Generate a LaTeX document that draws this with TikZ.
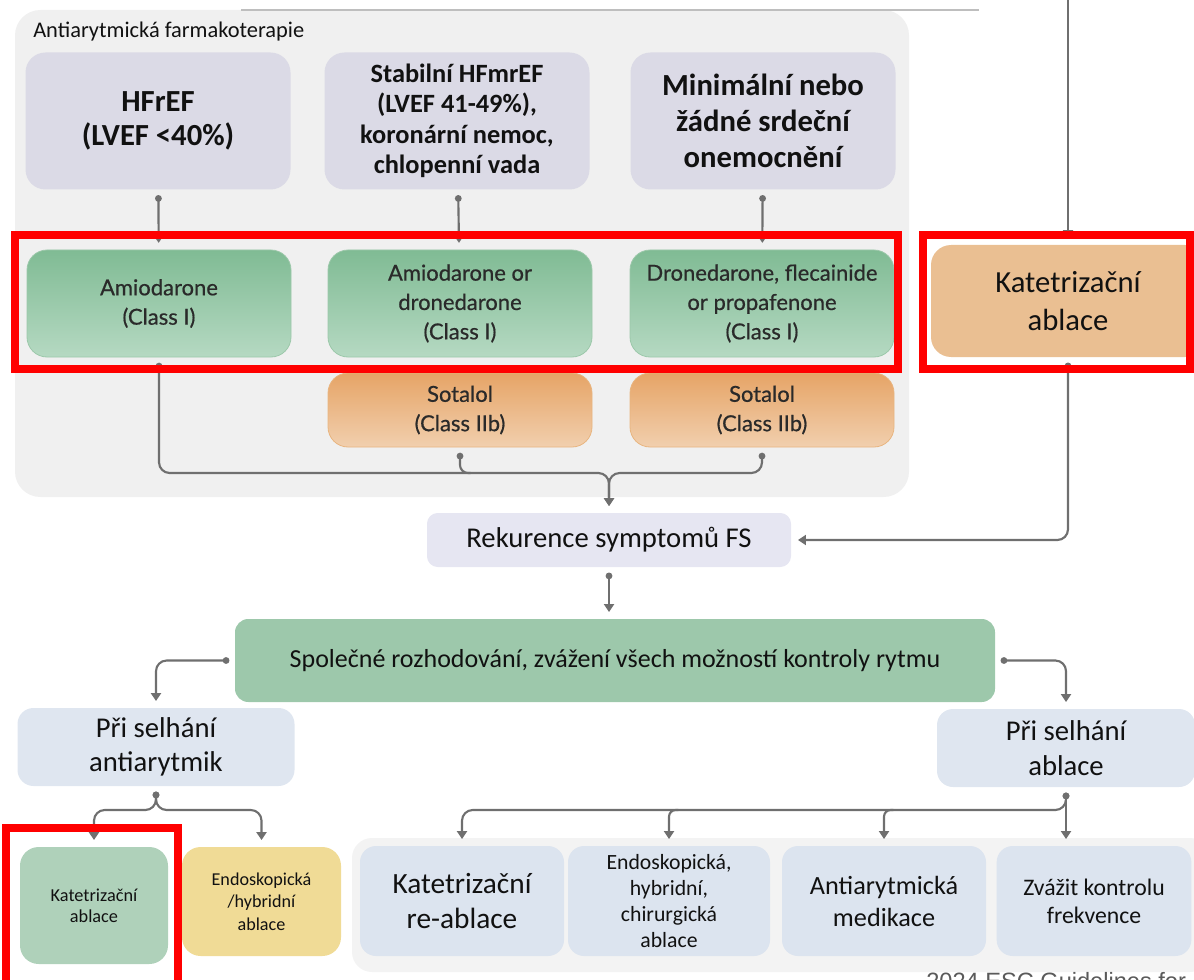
\documentclass[tikz,border=0pt]{standalone}
\usepackage{fontspec}
\setmainfont{Carlito}
\newfontface\drugfont[FakeBold=0.6]{Lato}
\newfontfamily\notefont{Liberation Sans}
\usetikzlibrary{arrows.meta,positioning}
\definecolor{INK}{HTML}{111111}
\definecolor{DRUGINK}{HTML}{2A2A2A}
\definecolor{PANEL}{HTML}{F0F0F0}
\definecolor{COND}{HTML}{DBDAE6}
\definecolor{REC}{HTML}{E6E6F2}
\definecolor{SHARED}{HTML}{9DC8AB}
\definecolor{FAIL}{HTML}{DFE6F0}
\definecolor{OPT}{HTML}{DCE4EF}
\definecolor{OPTBG}{HTML}{F3F3F3}
\definecolor{ABLGREEN}{HTML}{AFD1BA}
\definecolor{ENDO}{HTML}{F0DB96}
\definecolor{ABLORANGE}{HTML}{EABF92}
\definecolor{GTOP}{HTML}{80BB94}
\definecolor{GBOT}{HTML}{B5D9C2}
\definecolor{GEDGE}{HTML}{9CC8AA}
\definecolor{OTOP}{HTML}{E6A466}
\definecolor{OBOT}{HTML}{F1CFAE}
\definecolor{OEDGE}{HTML}{E8B580}
\definecolor{LINK}{HTML}{6F6F6F}
\definecolor{MARK}{HTML}{FF0000}
\definecolor{NOTE}{HTML}{5A5A5A}

\begin{document}
\begin{tikzpicture}[
  x=0.75pt, y=-0.75pt,
  box/.style={rounded corners=12pt, align=center, text=INK, inner sep=2pt},
  cond/.style={box, rounded corners=15pt, fill=COND, minimum width=198.75pt,
    minimum height=102.75pt},
  drug/.style={box, rounded corners=15pt, draw=GEDGE, line width=0.6pt,
    top color=GTOP, bottom color=GBOT, minimum width=198pt, minimum height=80.25pt,
    text=DRUGINK, font={\drugfont\fontsize{16.5}{22}\selectfont}},
  alt/.style={drug, draw=OEDGE, top color=OTOP, bottom color=OBOT, minimum height=55.5pt},
  fail/.style={box, fill=FAIL, minimum width=207.75pt, minimum height=58.5pt,
    font=\fontsize{21.5}{26}\selectfont},
  opt/.style={box, fill=OPT, minimum width=153pt, minimum height=82.5pt},
  link/.style={draw=LINK, line width=1.6pt,
    {Circle[length=5pt]}-{Triangle[length=6pt,width=7.5pt]}, shorten <=4pt, shorten >=5pt},
  feed/.style={draw=LINK, line width=1.6pt, -{Triangle[length=6pt,width=7.5pt]}, shorten >=5pt},
  tail/.style={draw=LINK, line width=1.6pt, {Circle[length=5pt]}-, shorten <=4pt},
  hilite/.style={draw=MARK, line width=6pt},
]
\useasboundingbox (0,0) rectangle (1194,980);

% ---- drug therapy panel ---------------------------------------------------
\fill[PANEL, rounded corners=19pt] (15,10) rectangle (909,497);
\draw[LINK!45, line width=0.8pt] (241,10) -- (979,10);
\node[anchor=base west, inner sep=0pt, text=INK, font=\fontsize{16.8}{20}\selectfont]
  (title) at (33,38) {Antiarytmická farmakoterapie};

% ---- conditions -----------------------------------------------------------
\node[cond, font={\bfseries\fontsize{23}{25.5}\selectfont}] (hfref) at (158,121)
  {HFrEF\\(LVEF <40\%)};
\node[cond, font={\bfseries\fontsize{19.8}{22.8}\selectfont}] (hfmref) at (457,121)
  {Stabilní HFmrEF\\(LVEF 41-49\%),\\koronární nemoc,\\chlopenní vada};
\node[cond, font={\bfseries\fontsize{23}{27}\selectfont}] (minor) at (763,121)
  {Minimální nebo\\žádné srdeční\\onemocnění};

% ---- drugs ----------------------------------------------------------------
\node[drug] (amio) at (159,303.5) {Amiodarone\\(Class I)};
\node[drug] (drona) at (460,303.5) {Amiodarone or\\dronedarone\\(Class I)};
\node[drug] (dronb) at (762,303.5) {Dronedarone, flecainide\\or propafenone\\(Class I)};
\node[alt] (sota) at (460,410) {Sotalol\\(Class IIb)};
\node[alt] (sotb) at (762,410) {Sotalol\\(Class IIb)};

\draw[link] (hfref) -- (amio);
\draw[link] (hfmref) -- (drona);
\draw[link] (minor) -- (dronb);

% ---- ablation first -------------------------------------------------------
\node[box, fill=ABLORANGE, rounded corners=15pt, minimum width=205.5pt, minimum height=84pt,
  font=\fontsize{23}{28}\selectfont] (abl) at (1068,301) {Katetrizační\\ablace};
\coordinate (top) at (1068,0);
\draw[feed] (top) -- (abl.north);

% ---- recurrence and shared decision ---------------------------------------
\node[box, fill=REC, rounded corners=8pt, minimum width=273pt, minimum height=40.5pt,
  font=\fontsize{21.5}{26}\selectfont] (rek) at (609,540) {Rekurence symptomů FS};
\node[box, fill=SHARED, rounded corners=10pt, minimum width=570pt, minimum height=62.25pt,
  font=\fontsize{19.5}{24}\selectfont] (spol) at (615,660.5)
  {Společné rozhodování, zvážení všech možností kontroly rytmu};

\coordinate (merge) at (609,473);
\draw[link, rounded corners=8pt] (amio.south) |- (merge) -- (rek.north);
\draw[link, rounded corners=8pt] (sotb.south) |- (merge) -- (rek.north);
\draw[tail, rounded corners=6pt] (sota.south) |- ([xshift=8pt]sota.south |- merge);
\draw[link, rounded corners=8pt] (abl.south) |- (rek.east);
\draw[link] (rek.south) -- (rek.south |- spol.north);

% ---- failure branches -----------------------------------------------------
\node[fail] (failaa) at (156,747) {Při selhání\\antiarytmik};
\node[fail, minimum width=193.5pt] (failab) at (1066,748) {Při selhání\\ablace};
\draw[link, rounded corners=8pt] (spol.west) -| (failaa.north);
\draw[link, rounded corners=8pt] (spol.east) -| (failab.north);

% ---- after failed drugs ---------------------------------------------------
\node[box, fill=ABLGREEN, rounded corners=14pt, minimum width=111pt, minimum height=87.75pt,
  font=\fontsize{13.7}{16}\selectfont] (katab) at (94,905.5) {Katetrizační\\ablace};
\node[box, fill=ENDO, rounded corners=14pt, minimum width=119.25pt, minimum height=81.75pt,
  font=\fontsize{13.6}{17}\selectfont] (endo) at (261.5,901.5) {Endoskopická\\/hybridní\\ablace};
\coordinate (splitl) at (156,810);
\draw[link, rounded corners=8pt] (failaa.south) -- (splitl) -| (katab.north);
\draw[link, rounded corners=8pt] (failaa.south) -- (splitl) -| (endo.north);

% ---- after failed ablation ------------------------------------------------
\fill[OPTBG, rounded corners=15pt] (352,838) rectangle (1210,972);
\node[opt, font=\fontsize{22}{26}\selectfont] (reabl) at (462,901) {Katetrizační\\re-ablace};
\node[opt, minimum width=151.5pt, font=\fontsize{16.3}{19.5}\selectfont] (endoall) at (669,901)
  {Endoskopická,\\hybridní,\\chirurgická\\ablace};
\node[opt, font=\fontsize{19.7}{24}\selectfont] (medik) at (884,901) {Antiarytmická\\medikace};
\node[opt, minimum width=146pt, font=\fontsize{17.8}{21}\selectfont] (zvaz) at (1094,901)
  {Zvážit kontrolu\\frekvence};
\coordinate (splitr) at (1066,810);
\draw[link] (failab.south) -- (splitr |- zvaz.north);
\draw[link, rounded corners=8pt] (failab.south) -- (splitr) -| (reabl.north);
\draw[feed, rounded corners=5pt] ([xshift=7pt]endoall.north |- splitr) -| (endoall.north);
\draw[feed, rounded corners=5pt] ([xshift=7pt]medik.north |- splitr) -| (medik.north);

% ---- highlights -----------------------------------------------------------
\draw[hilite] (15,235) rectangle (897.5,369);
\draw[hilite] (922.5,235) rectangle (1190,369);
\draw[hilite] (6,827.5) rectangle (178,1000);

\node[anchor=base west, inner sep=0pt, text=NOTE, font={\notefont\fontsize{17.7}{20}\selectfont}]
  (src) at (926,989) {2024 ESC Guidelines for};
\end{tikzpicture}
\end{document}
